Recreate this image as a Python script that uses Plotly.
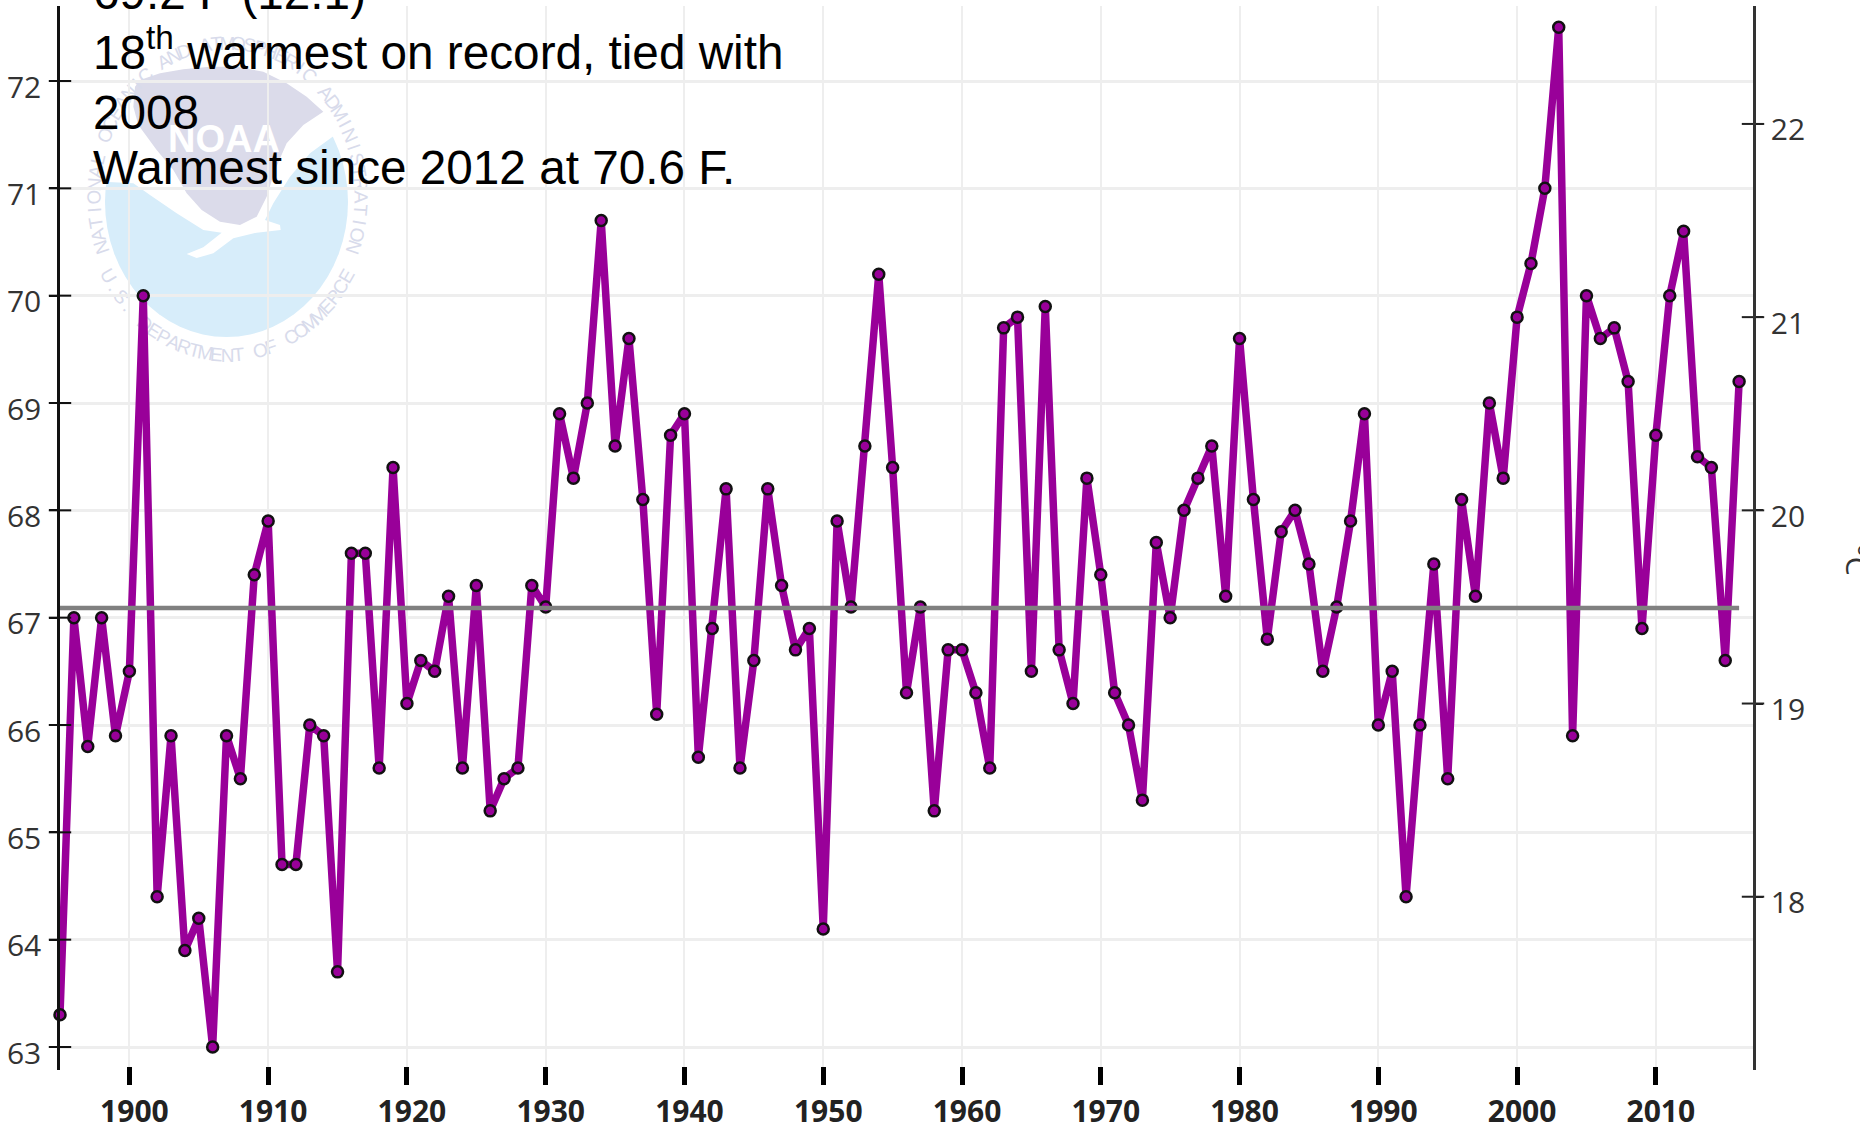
import math
import plotly.graph_objects as go

# ---------- data ----------
years = list(range(1895, 2017))
temps_f = [63.3, 67.0, 65.8, 67.0, 65.9, 66.5, 70.0, 64.4, 65.9, 63.9,
           64.2, 63.0, 65.9, 65.5, 67.4, 67.9, 64.7, 64.7, 66.0, 65.9,
           63.7, 67.6, 67.6, 65.6, 68.4, 66.2, 66.6, 66.5, 67.2, 65.6,
           67.3, 65.2, 65.5, 65.6, 67.3, 67.1, 68.9, 68.3, 69.0, 70.7,
           68.6, 69.6, 68.1, 66.1, 68.7, 68.9, 65.7, 66.9, 68.2, 65.6,
           66.6, 68.2, 67.3, 66.7, 66.9, 64.1, 67.9, 67.1, 68.6, 70.2,
           68.4, 66.3, 67.1, 65.2, 66.7, 66.7, 66.3, 65.6, 69.7, 69.8,
           66.5, 69.9, 66.7, 66.2, 68.3, 67.4, 66.3, 66.0, 65.3, 67.7,
           67.0, 68.0, 68.3, 68.6, 67.2, 69.6, 68.1, 66.8, 67.8, 68.0,
           67.5, 66.5, 67.1, 67.9, 68.9, 66.0, 66.5, 64.4, 66.0, 67.5,
           65.5, 68.1, 67.2, 69.0, 68.3, 69.8, 70.3, 71.0, 72.5, 65.9,
           70.0, 69.6, 69.7, 69.2, 66.9, 68.7, 70.0, 70.6, 68.5, 68.4,
           66.6, 69.2]
mean_f = 67.09
x_ticks = list(range(1900, 2011, 10))
f_ticks = list(range(63, 73))
c_ticks = list(range(18, 23))
note_lines = ["69.2 F (12.1)", "18<sup>th</sup> warmest on record, tied with",
              "2008", "Warmest since 2012 at 70.6 F."]
note_centers = [-7, 49, 112, 168]
ring_top = "NATIONAL OCEANIC AND ATMOSPHERIC ADMINISTRATION"
ring_bottom = "U.S. DEPARTMENT OF COMMERCE"

# ---------- geometry ----------
W, H = 1860, 1128
L, R, T, B = 60, 1753, 6, 1070
X_RANGE = [1895, 2017]
Y_RANGE = [63 - (1070 - 1047) / 107.33, 72 + (81 - 6) / 107.33]
C_RANGE = [(v - 32) / 1.8 for v in Y_RANGE]


def px(x):
    return (x - L) / (R - L)


def py(y):
    return 1 - (y - T) / (B - T)


def zoom_path(points):
    coords = [(px(a / 3 + 70), py(b / 3 + 40)) for a, b in points]
    return "M" + "L".join(f"{a:.5f},{b:.5f}" for a, b in coords) + "Z"


shapes = []
# NOAA logo watermark
shapes.append(dict(type="circle", xref="paper", yref="paper", layer="below",
                   x0=px(105), x1=px(348), y0=py(337), y1=py(67),
                   fillcolor="#d7edfa", line_width=0))
white_sky = [(40, 40), (900, 40), (900, 275), (795, 285), (720, 340), (660, 410),
             (610, 490), (585, 540), (630, 555), (632, 570), (560, 578), (490, 595),
             (430, 640), (380, 654), (350, 642), (400, 622), (455, 578), (400, 570),
             (320, 520), (240, 465), (190, 430), (100, 425), (40, 430)]
shapes.append(dict(type="path", xref="paper", yref="paper", layer="below",
                   path=zoom_path(white_sky), fillcolor="white", line_width=0))
lavender = [(210, 120), (270, 100), (340, 88), (420, 80), (500, 80), (580, 95), (650, 130),
            (710, 170), (760, 215), (700, 255), (650, 310), (615, 390), (590, 470),
            (560, 530), (510, 555), (450, 545), (395, 510), (350, 460), (310, 390),
            (260, 330), (205, 255), (190, 200), (195, 140)]
shapes.append(dict(type="path", xref="paper", yref="paper", layer="below",
                   path=zoom_path(lavender), fillcolor="#dbdbea", line_width=0))


def letter(ch, cx, cy, angle, size=19, color="#d8dbeb", family="Liberation Sans", box=1, weight="normal"):
    return dict(type="rect", xref="paper", yref="paper", layer="below",
                x0=px(cx - box), x1=px(cx + box), y0=py(cy + box), y1=py(cy - box),
                line_width=0, fillcolor="rgba(0,0,0,0)",
                label=dict(text=ch, textangle=angle, textposition="middle center",
                           font=dict(size=size, color=color, family=family, weight=weight)))


CX, CY, RX, RY = 227.5, 197, 135.5, 156
for i, ch in enumerate(ring_top):
    if ch == " ":
        continue
    t = -109 + 218 * i / (len(ring_top) - 1)
    a = math.radians(t)
    shapes.append(letter(ch, CX + RX * math.sin(a), CY - RY * math.cos(a), t))
for i, ch in enumerate(ring_bottom):
    if ch == " ":
        continue
    t = -60 + 120 * i / (len(ring_bottom) - 1)
    a = math.radians(t)
    shapes.append(letter(ch, CX + RX * math.sin(a), CY + RY * math.cos(a), -t))
shapes.append(letter("NOAA", 224, 135, 0, size=38, color="white", box=2, weight="bold"))

# ---------- traces ----------
fig = go.Figure()
fig.add_trace(go.Scatter(x=years, y=temps_f, mode="lines+markers", cliponaxis=False,
                         line=dict(color="#990099", width=7.5),
                         marker=dict(size=11, color="#990099", line=dict(color="#111111", width=2.5)),
                         showlegend=False))
fig.add_trace(go.Scatter(x=[years[0], years[-1]], y=[mean_f, mean_f], mode="lines",
                         line=dict(color="#808080", width=4.5), showlegend=False))
# Axis ticks that cross the axis lines
fig.add_trace(go.Scatter(x=[X_RANGE[0]] * len(f_ticks), y=f_ticks, mode="markers", cliponaxis=False,
                         marker=dict(symbol="line-ew", size=16, line=dict(color="#111111", width=2)),
                         showlegend=False, hoverinfo="skip"))
fig.add_trace(go.Scatter(x=[X_RANGE[1]] * len(c_ticks), y=c_ticks, yaxis="y2", mode="markers", cliponaxis=False,
                         marker=dict(symbol="line-ew", size=16, line=dict(color="#222222", width=2)),
                         showlegend=False, hoverinfo="skip"))

# ---------- notes ----------
annotations = [dict(xref="paper", yref="paper", x=px(91), y=py(c),
                    xanchor="left", yanchor="middle", showarrow=False, align="left",
                    text=line, font=dict(family="Liberation Sans", size=47.7, color="black"))
               for line, c in zip(note_lines, note_centers)]
annotations.append(dict(xref="paper", yref="paper", x=px(1858), y=py(560), xanchor="center",
                        yanchor="middle", showarrow=False, text="°C", textangle=90,
                        font=dict(family="Open Sans", size=30, color="#333333")))

TICK = dict(family="Open Sans", size=30, color="#333333")
fig.update_layout(
    width=W, height=H, autosize=False,
    margin=dict(l=L, r=W - R, t=T, b=H - B, pad=0, autoexpand=False),
    paper_bgcolor="white", plot_bgcolor="rgba(0,0,0,0)",
    showlegend=False, shapes=shapes, annotations=annotations,
    xaxis=dict(range=X_RANGE, tickmode="array", tickvals=x_ticks, ticktext=[str(v) for v in x_ticks],
               showgrid=True, gridcolor="#eeeeee", gridwidth=2, zeroline=False, showline=False,
               anchor="free", position=4 / (B - T), ticks="outside", ticklen=18, tickwidth=5,
               tickcolor="black", ticklabelstandoff=1, ticklabelshift=5, automargin=False,
               tickfont=dict(family="Open Sans", size=30, color="#222222", weight="bold")),
    yaxis=dict(range=Y_RANGE, tickmode="array", tickvals=f_ticks, ticktext=[str(v) for v in f_ticks],
               showgrid=True, gridcolor="#eeeeee", gridwidth=3, zeroline=False,
               showline=True, linecolor="#111111", linewidth=2.5,
               ticks="outside", ticklen=8, tickwidth=2, tickcolor="#111111",
               ticklabelstandoff=2, ticklabelshift=6, automargin=False, tickfont=TICK),
    yaxis2=dict(range=C_RANGE, overlaying="y", side="right", tickmode="array", tickvals=c_ticks,
                ticktext=[str(v) for v in c_ticks], showgrid=False, zeroline=False,
                showline=True, linecolor="#333333", linewidth=2.5,
                ticks="outside", ticklen=7, tickwidth=2, tickcolor="#222222",
                ticklabelstandoff=2, ticklabelshift=6, automargin=False, tickfont=TICK),
)

fig.write_html("out.html", config={"displayModeBar": False},
               post_script="document.body.style.margin='0';document.body.style.overflow='hidden';")
